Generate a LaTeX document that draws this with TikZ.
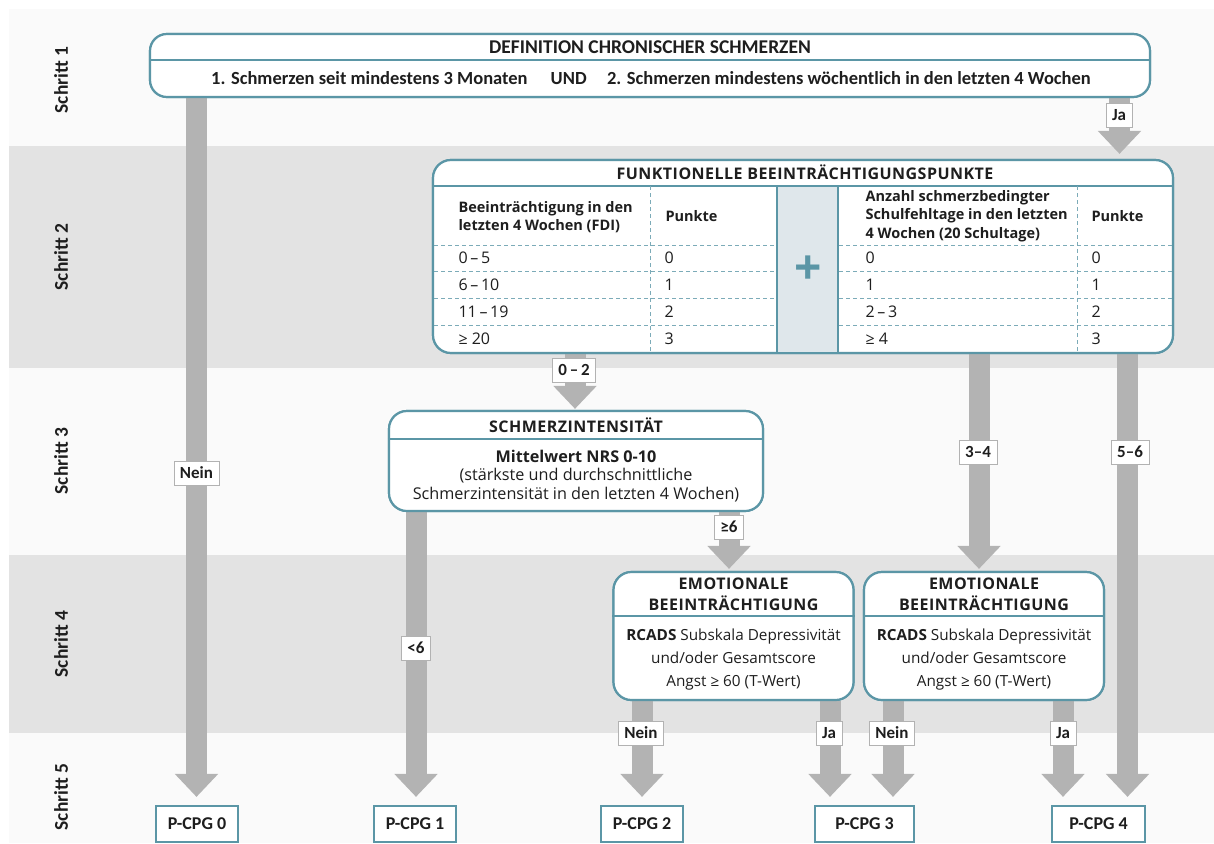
\documentclass[tikz,border=0pt]{standalone}
\usepackage{fontspec}
\setmainfont{Carlito}
\newfontfamily\osans{Open Sans}
\newfontfamily\osansT[LetterSpace=3]{Open Sans}
\usetikzlibrary{arrows.meta,calc}
\definecolor{tealc}{HTML}{5B96A6}
\definecolor{bandA}{HTML}{FAFAFA}
\definecolor{bandB}{HTML}{E3E3E3}
\definecolor{arrc}{HTML}{B3B3B3}
\definecolor{plusbg}{HTML}{DFE7EB}
\definecolor{txtc}{HTML}{1E1E1E}
\begin{document}
\begin{tikzpicture}[x=1pt,y=-1pt,
  every node/.style={text=txtc},
  steplab/.style={rotate=90,font=\fontsize{19.5}{22}\selectfont\bfseries},
  bigbox/.style={draw=tealc,line width=2.2pt,fill=white,rounded corners=17pt,inner sep=0pt},
  divline/.style={draw=tealc,line width=1.6pt},
  dashline/.style={draw=tealc!80,line width=0.8pt,dash pattern=on 4pt off 3pt},
  fat/.style={draw=arrc,line width=21pt,-{Triangle[width=42pt,length=23pt]}},
  lab/.style={draw=black!30,line width=0.7pt,fill=white,inner xsep=6pt,inner ysep=0pt,minimum height=24pt,font=\fontsize{17}{19}\selectfont\bfseries},
  res/.style={draw=tealc,line width=2.2pt,fill=white,minimum height=36pt,minimum width=82pt,inner xsep=8pt,font=\fontsize{18}{20}\selectfont\bfseries},
  ttl/.style={font=\osansT\fontsize{16}{21}\selectfont\bfseries,align=center},
  tb/.style={font=\osans\fontsize{14.5}{18.5}\selectfont\bfseries,align=left,anchor=west},
  tr/.style={font=\osans\fontsize{16}{18}\selectfont,anchor=west},
  body/.style={font=\osans\fontsize{16.2}{18.5}\selectfont,align=center},
]
\useasboundingbox (0,0) rectangle (1214,843);
\fill[white] (0,0) rectangle (1214,843);
\fill[bandA] (9,9) rectangle (1214,146);
\fill[bandB] (9,146) rectangle (1214,368);
\fill[bandA] (9,368) rectangle (1214,555);
\fill[bandB] (9,555) rectangle (1214,733);
\fill[bandA] (9,733) rectangle (1214,843);

% step labels
\node[steplab] (s1) at (61,80) {Schritt 1};
\node[steplab] (s2) at (61,257) {Schritt 2};
\node[steplab] (s3) at (61,461) {Schritt 3};
\node[steplab] (s4) at (61,644) {Schritt 4};
\node[steplab] (s5) at (61,797) {Schritt 5};

% x positions of connectors
\coordinate (x1) at (196.5,0);
\coordinate (x2) at (1119.5,0);
\coordinate (x3) at (575,0);
\coordinate (x4) at (416,0);
\coordinate (x5) at (729,0);
\coordinate (x6) at (979,0);
\coordinate (x7) at (1127.5,0);
\coordinate (x8) at (642,0);
\coordinate (x9) at (830,0);
\coordinate (x10) at (893,0);
\coordinate (x11) at (1063,0);

% boxes (shapes first, for anchors)
\node[bigbox,minimum width=1000pt,minimum height=63pt] (def) at (650,65.5) {};
\node[bigbox,minimum width=740pt,minimum height=193pt,rounded corners=18pt] (fb) at (803,256.5) {};
\node[bigbox,minimum width=374pt,minimum height=100pt,rounded corners=18pt] (si) at (576,461) {};
\node[bigbox,minimum width=240pt,minimum height=128pt,rounded corners=18pt] (e1) at (733.5,636) {};
\node[bigbox,minimum width=240pt,minimum height=128pt,rounded corners=18pt] (e2) at (984,636) {};
\node[res] (p0) at (197,824) {P-CPG 0};
\node[res] (p1) at (415,824) {P-CPG 1};
\node[res] (p2) at (642,824) {P-CPG 2};
\node[res,minimum width=99pt] (p3) at (864.5,824) {P-CPG 3};
\node[res,minimum width=93pt] (p4) at (1098.5,824) {P-CPG 4};

% connectors
\draw[fat,shorten >=8pt] (def.south -| x1) -- (p0.north -| x1);
\draw[fat,shorten >=5pt] (def.south -| x2) -- (fb.north -| x2);
\draw[fat,shorten >=1pt] (fb.south -| x3) -- (si.north -| x3);
\draw[fat,shorten >=8pt] (si.south -| x4) -- (p1.north -| x4);
\draw[fat,shorten >=2pt] (si.south -| x5) -- (e1.north -| x5);
\draw[fat,shorten >=2pt] (fb.south -| x6) -- (e2.north -| x6);
\draw[fat,shorten >=8pt] (fb.south -| x7) -- (p4.north -| x7);
\draw[fat,shorten >=8pt] (e1.south -| x8) -- (p2.north -| x8);
\draw[fat,shorten >=8pt] (e1.south -| x9) -- (p3.north -| x9);
\draw[fat,shorten >=8pt] (e2.south -| x10) -- (p3.north -| x10);
\draw[fat,shorten >=8pt] (e2.south -| x11) -- (p4.north -| x11);

% redraw boxes on top of arrow starts
\node[bigbox,minimum width=1000pt,minimum height=63pt] at (def) {};
\node[bigbox,minimum width=740pt,minimum height=193pt,rounded corners=18pt] at (fb) {};
\node[bigbox,minimum width=374pt,minimum height=100pt,rounded corners=18pt] at (si) {};
\node[bigbox,minimum width=240pt,minimum height=128pt,rounded corners=18pt] at (e1) {};
\node[bigbox,minimum width=240pt,minimum height=128pt,rounded corners=18pt] at (e2) {};

% arrow labels
\node[lab] (lNein0) at (196.5,473) {Nein};
\node[lab] (lJa0) at (1119,115) {Ja};
\node[lab] (l02) at (574,370) {0\,–\,2};
\node[lab] (l6a) at (416,648) {<6};
\node[lab] (l6b) at (729,527) {≥6};
\node[lab] (l34) at (978,452) {3–4};
\node[lab] (l56) at (1130,452) {5–6};
\node[lab] (lN1) at (641,733) {Nein};
\node[lab] (lJ1) at (829,733) {Ja};
\node[lab] (lN2) at (892,733) {Nein};
\node[lab] (lJ2) at (1063,733) {Ja};

% step 1 box content
\draw[divline] (def.west |- 0,60) -- (def.east |- 0,60);
\node[font=\fontsize{19.5}{22}\selectfont\bfseries] (defT) at (650,47) {DEFINITION CHRONISCHER SCHMERZEN};
\node[font=\fontsize{18.5}{22}\selectfont\bfseries] (defB) at (651,78) {1. Schmerzen seit mindestens 3 Monaten\hspace{1.25em}UND\hspace{1.1em}2. Schmerzen mindestens wöchentlich in den letzten 4 Wochen};

% step 2 table
\fill[plusbg] (777,186) rectangle (838,352);
\draw[divline] (fb.west |- 0,186) -- (fb.east |- 0,186);
\draw[divline] (777,186) -- (777,353);
\draw[divline] (838,186) -- (838,353);
\foreach \yy in {245,271,298,325} {
  \draw[dashline] (434,\yy) -- (776,\yy);
  \draw[dashline] (839,\yy) -- (1172,\yy);
}
\draw[dashline] (650,186) -- (650,352);
\draw[dashline] (1077,186) -- (1077,352);
\node[ttl] (fbT) at (805,172) {FUNKTIONELLE BEEINTRÄCHTIGUNGSPUNKTE};
\node[text=tealc,font=\osans\bfseries\fontsize{48}{48}\selectfont] (plus) at (808,270) {+};
\node[tb] (h1) at (455,217) {Beeinträchtigung in den\\letzten 4 Wochen (FDI)};
\node[tb] (h2) at (662,216) {Punkte};
\node[tb] (h3) at (862,216) {Anzahl schmerzbedingter\\Schulfehltage in den letzten\\4 Wochen (20 Schultage)};
\node[tb] (h4) at (1088,216) {Punkte};
\node[tr] (a1) at (455,258) {0\,–\,5};
\node[tr] (a2) at (455,285) {6\,–\,10};
\node[tr] (a3) at (455,312) {11\,–\,19};
\node[tr] (a4) at (455,339) {≥ 20};
\node[tr] (b1) at (661,258) {0};
\node[tr] (b2) at (661,285) {1};
\node[tr] (b3) at (661,312) {2};
\node[tr] (b4) at (661,339) {3};
\node[tr] (c1) at (862,258) {0};
\node[tr] (c2) at (862,285) {1};
\node[tr] (c3) at (862,312) {2\,–\,3};
\node[tr] (c4) at (862,339) {≥ 4};
\node[tr] (d1) at (1088,258) {0};
\node[tr] (d2) at (1088,285) {1};
\node[tr] (d3) at (1088,312) {2};
\node[tr] (d4) at (1088,339) {3};

% step 3 box
\draw[divline] (si.west |- 0,439) -- (si.east |- 0,439);
\node[ttl] (siT) at (576,425) {SCHMERZINTENSITÄT};
\node[body] (siB) at (576,476) {\bfseries Mittelwert NRS 0-10\\(stärkste und durchschnittliche\\Schmerzintensität in den letzten 4 Wochen)};

% step 4 boxes
\draw[divline] (e1.west |- 0,616) -- (e1.east |- 0,616);
\draw[divline] (e2.west |- 0,616) -- (e2.east |- 0,616);
\node[ttl] (e1T) at (733.5,594) {EMOTIONALE\\BEEINTRÄCHTIGUNG};
\node[ttl] (e2T) at (984,594) {EMOTIONALE\\BEEINTRÄCHTIGUNG};
\node[body,font=\osans\fontsize{15.3}{23}\selectfont] (e1B) at (733.5,660) {\textbf{RCADS} Subskala Depressivität\\und/oder Gesamtscore\\Angst ≥ 60 (T-Wert)};
\node[body,font=\osans\fontsize{15.3}{23}\selectfont] (e2B) at (984,660) {\textbf{RCADS} Subskala Depressivität\\und/oder Gesamtscore\\Angst ≥ 60 (T-Wert)};
\end{tikzpicture}
\end{document}
